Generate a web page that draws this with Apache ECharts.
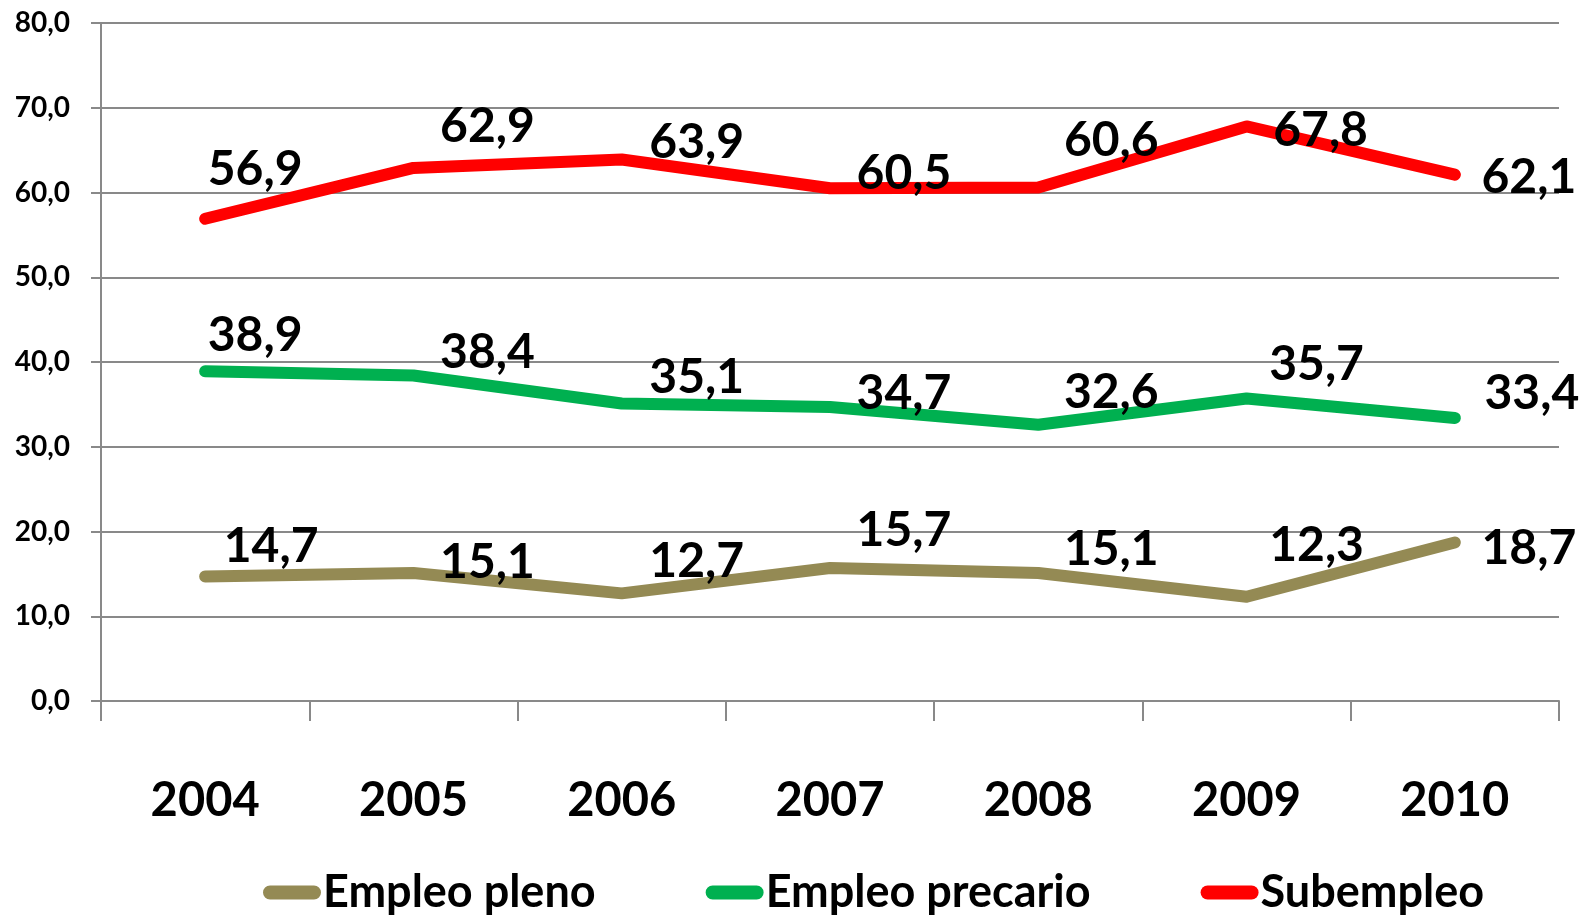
<!DOCTYPE html>
<html>
<head>
<meta charset="utf-8">
<script src="https://cdn.jsdelivr.net/npm/echarts@6/dist/echarts.min.js"></script>
<style>
  html, body { margin: 0; padding: 0; background: #fff; }
  #chart { width: 1593px; height: 917px; }
</style>
</head>
<body>
<div id="chart"></div>
<script>
const years = ['2004', '2005', '2006', '2007', '2008', '2009', '2010']
const empleoPleno = [14.7, 15.1, 12.7, 15.7, 15.1, 12.3, 18.7]
const empleoPrecario = [38.9, 38.4, 35.1, 34.7, 32.6, 35.7, 33.4]
const subempleo = [56.9, 62.9, 63.9, 60.5, 60.6, 67.8, 62.1]

// where each value label sits relative to its point (px), as placed in the original
const labelShift = {
  pleno: [[66, -30], [74, -11], [75, -32], [74, -37], [73, -24], [70, -51], [74, 6]],
  precario: [[50, -36], [74, -23], [75, -26], [74, -13], [73, -32], [70, -34], [77, -24]],
  sub: [[50, -49], [74, -41], [75, -17], [74, -15], [73, -47], [74, 4], [74, 3]]
}

const FONT = 'Lato'
const comma = v => v.toFixed(1).replace('.', ',')

function makeSeries(name, values, color, shifts) {
  return {
    name,
    type: 'line',
    data: values.map((v, i) => ({
      value: v,
      label: { offset: shifts[i] }
    })),
    symbol: 'circle',
    symbolSize: 1,
    showSymbol: true,
    itemStyle: { color },
    lineStyle: { color, width: 12, cap: 'round', join: 'round' },
    label: {
      show: true,
      position: 'inside',
      align: 'center',
      verticalAlign: 'middle',
      fontFamily: FONT,
      fontWeight: 'bold',
      fontSize: 48,
      color: '#000',
      formatter: p => comma(p.value)
    },
    animation: false
  }
}

const legendIcon = 'path://M7,0 H51 A7,7 0 0 1 51,14 H7 A7,7 0 0 1 7,0 Z'

const chart = echarts.init(document.getElementById('chart'))
chart.setOption({
  backgroundColor: '#fff',
  grid: { left: 101, right: 34, top: 23, bottom: 216 },
  legend: {
    left: 258,
    top: 865,
    icon: legendIcon,
    itemWidth: 58,
    itemHeight: 14,
    itemGap: 110,
    textStyle: { fontFamily: FONT, fontWeight: 'bold', fontSize: 45, color: '#000', padding: [0, 0, 0, -3] },
    data: ['Empleo pleno', 'Empleo precario', 'Subempleo']
  },
  xAxis: {
    type: 'category',
    data: years,
    boundaryGap: true,
    axisLine: { lineStyle: { color: '#898989', width: 2 } },
    axisTick: { show: true, length: 20, lineStyle: { color: '#898989', width: 2 } },
    axisLabel: { margin: 76, fontFamily: FONT, fontWeight: 'bold', fontSize: 47, color: '#000' }
  },
  yAxis: {
    type: 'value',
    min: 0,
    max: 80,
    interval: 10,
    axisLine: { show: true, lineStyle: { color: '#898989', width: 2 } },
    axisTick: { show: true, length: 10, lineStyle: { color: '#898989', width: 2 } },
    splitLine: { lineStyle: { color: '#898989', width: 2 } },
    axisLabel: {
      margin: 31,
      fontFamily: FONT,
      fontWeight: 'bold',
      fontSize: 28,
      color: '#000',
      formatter: v => comma(v)
    }
  },
  series: [
    makeSeries('Empleo pleno', empleoPleno, '#948A54', labelShift.pleno),
    makeSeries('Empleo precario', empleoPrecario, '#00B050', labelShift.precario),
    makeSeries('Subempleo', subempleo, '#FF0000', labelShift.sub)
  ]
})
</script>
</body>
</html>
